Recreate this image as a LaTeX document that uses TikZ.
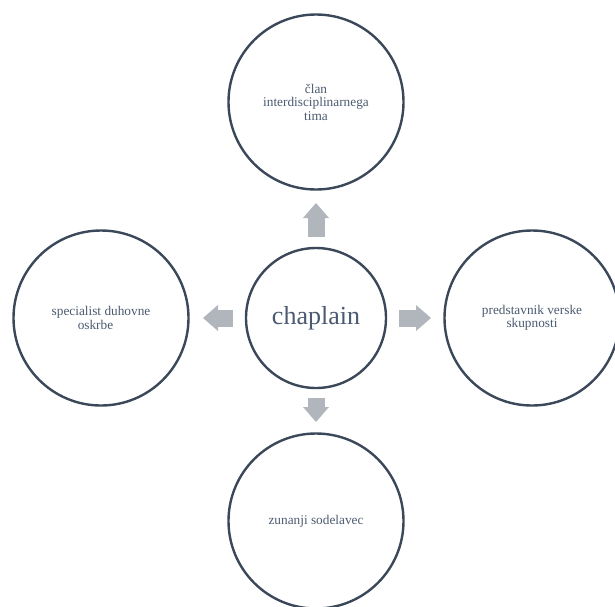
\documentclass[tikz,border=0pt]{standalone}
\usepackage{fontspec}
\setmainfont{Liberation Serif}
\usetikzlibrary{arrows.meta}
\definecolor{ringcol}{HTML}{3B4859}
\definecolor{labelcol}{HTML}{4A5A70}
\definecolor{arrowcol}{HTML}{B1B5BC}
\begin{document}
\begin{tikzpicture}[x=1pt,y=-1pt,
  ring/.style={circle, draw=ringcol, line width=2.4pt, text=labelcol,
    align=center, inner sep=0pt, font=\fontsize{13.3}{13.5}\selectfont},
  outer/.style={ring, minimum size=175pt},
  hub/.style={ring, minimum size=140pt, font=\fontsize{26}{30}\selectfont},
  blockarrow/.style={draw=arrowcol, line width=17pt,
    -{Triangle[width=26pt,length=15pt,line width=0pt]}}
]
\useasboundingbox (0,0) rectangle (615,606);

% central role and the four related roles
\node[hub] (hub) at (316,318) {chaplain};
\node[outer] (top) at (316,102) {član\\interdisciplinarnega\\tima};
\node[outer] (left) at (101,318) {specialist duhovne\\oskrbe\hspace*{11pt}};
\node[outer] (right) at (532,318) {predstavnik verske\\skupnosti};
\node[outer] (bottom) at (316,521) {zunanji sodelavec};

% block arrows pointing outwards
\draw[blockarrow, shorten <=9.8pt, shorten >=12.3pt] (hub) -- (top);
\draw[blockarrow, shorten <=11.8pt, shorten >=13.3pt] (hub) -- (left);
\draw[blockarrow, shorten <=11.8pt, shorten >=12.3pt] (hub) -- (right);
\draw[blockarrow, shorten <=8.8pt, shorten >=10.3pt] (hub) -- (bottom);
\end{tikzpicture}
\end{document}
